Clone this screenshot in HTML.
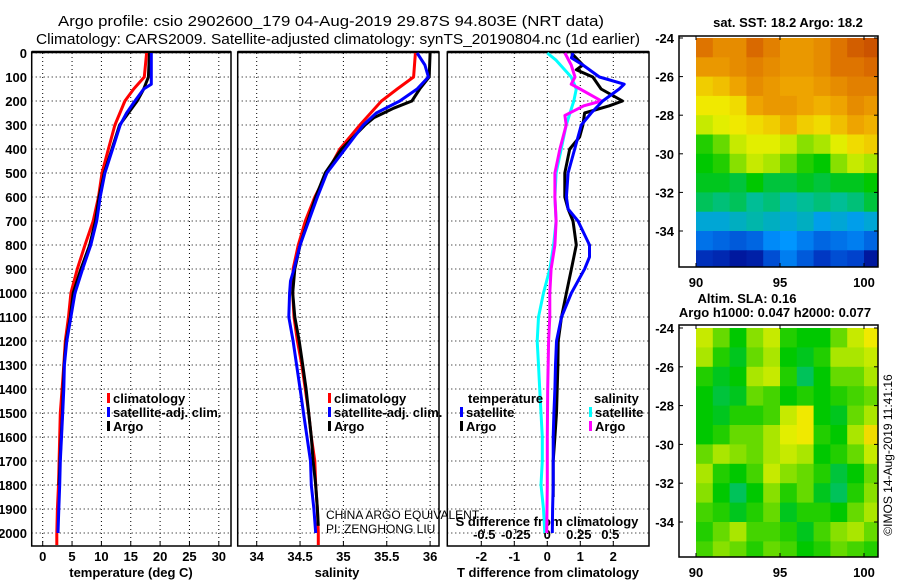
<!DOCTYPE html>
<html><head><meta charset="utf-8">
<style>
html,body{margin:0;padding:0;background:#fff;}
svg{display:block;font-family:"Liberation Sans",sans-serif;}
.tk{font-size:13px;font-weight:bold;fill:#000;}
.grid{stroke:#000;stroke-width:1;stroke-dasharray:1,3;}
</style></head>
<body>
<svg id="fig" width="900" height="580" viewBox="0 0 900 580" xmlns="http://www.w3.org/2000/svg">
<text x="58" y="26" font-size="15" textLength="546" lengthAdjust="spacingAndGlyphs">Argo profile: csio 2902600_179 04-Aug-2019 29.87S 94.803E (NRT data)</text>
<text x="36" y="44" font-size="15" textLength="604" lengthAdjust="spacingAndGlyphs">Climatology: CARS2009. Satellite-adjusted climatology: synTS_20190804.nc (1d earlier)</text>
<g id="layer"></g>
</svg>
<script>
// ---------- data ----------
const depthTicks = [0,100,200,300,400,500,600,700,800,900,1000,1100,1200,1300,1400,1500,1600,1700,1800,1900,2000];
const tempTicks = [0,5,10,15,20,25,30];
const salTicks = [34,34.5,35,35.5,36];
const salTickLabels = ["34","34.5","35","35.5","36"];
const tdiffTicks = [-2,-1,0,1,2];
const sdiffTicks = [-0.5,-0.25,0,0.25,0.5];
const sdiffTickLabels = ["-0.5","-0.25","0","0.25","0.5"];

const tClimDepth = [0,100,150,200,300,400,500,600,700,800,900,1000,1100,1200,1300,1400,1500,1600,1700,1800,1900,2000,2050];
const tClim      = [17.7,17.3,15.5,14.0,12.3,11.2,10.1,9.5,8.6,7.2,5.9,4.8,4.4,3.85,3.6,3.3,3.0,2.9,2.8,2.7,2.5,2.4,2.4];
const tSatDepth  = [0,100,130,150,200,250,300,400,500,600,700,800,900,1000,1100,1200,1300,1400,1500,1600,1700,1800,1900,2000];
const tSat       = [18.5,18.5,18.5,17.2,15.7,14.3,13.2,11.9,10.6,9.8,9.2,8.2,6.8,5.5,4.8,4.1,3.7,3.6,3.4,3.2,3.0,2.9,2.75,2.6];
const tArgoDepth = [0,100,150,200,250,300,400,500,600,700,800,900,1000,1100,1200,1300,1400,1500,1600,1700,1800];
const tArgo      = [18.2,18.0,17.2,16.1,14.6,13.1,11.8,10.5,9.6,9.0,8.0,6.5,5.2,4.7,4.0,3.65,3.5,3.35,3.15,2.95,2.8];

const sClimDepth = [0,100,150,200,300,400,500,600,700,800,900,1000,1100,1200,1300,1400,1500,1600,1700,1800,1900,2000,2050];
const sClim      = [35.83,35.81,35.62,35.44,35.19,34.96,34.81,34.67,34.56,34.48,34.42,34.415,34.43,34.47,34.52,34.56,34.60,34.63,34.67,34.68,34.70,34.71,34.71];
const sSatDepth  = [0,50,100,150,200,250,300,400,500,600,700,800,900,950,1000,1100,1200,1300,1400,1500,1600,1700,1800,1900,2000];
const sSat       = [35.85,35.94,35.98,35.85,35.65,35.38,35.23,35.02,34.81,34.70,34.60,34.50,34.43,34.39,34.38,34.37,34.42,34.46,34.50,34.54,34.58,34.62,34.63,34.66,34.68];
const sArgoDepth = [0,100,150,200,230,270,300,400,500,600,700,800,900,1000,1100,1200,1300,1400,1500,1600,1700,1800,1900,1970];
const sArgo      = [36.0,35.99,35.88,35.79,35.58,35.35,35.25,34.98,34.79,34.68,34.59,34.50,34.44,34.415,34.44,34.49,34.53,34.57,34.60,34.63,34.65,34.68,34.70,34.71];

const dTSatDepth = [0,20,50,100,130,150,200,250,300,400,500,600,650,700,800,850,900,1000,1100,1200,1300,1400,1500,1600,1700,1800,1900,2000];
const dTSat      = [0.78,0.73,1.08,1.58,2.33,2.18,1.68,1.33,1.03,0.83,0.63,0.58,0.63,0.93,1.28,1.28,1.13,0.73,0.43,0.28,0.25,0.23,0.2,0.18,0.18,0.18,0.16,0.15];
const dTArgoDepth= [0,50,70,100,150,200,220,250,300,350,400,500,600,650,700,800,900,1000,1100,1200,1300,1400,1500,1600,1700,1800,1850];
const dTArgo     = [0.73,1.08,0.88,1.38,1.63,2.28,1.88,1.13,1.08,0.98,0.68,0.53,0.53,0.63,0.78,0.88,0.73,0.58,0.43,0.33,0.32,0.3,0.28,0.23,0.18,0.18,0.18];
const dSArgoDepth= [0,50,100,130,150,200,220,260,300,400,500,600,700,800,900,1000,1100,1200,1400,1600,1800,2000];
const dSArgo     = [0.14,0.19,0.22,0.19,0.26,0.43,0.29,0.14,0.15,0.10,0.06,0.06,0.07,0.06,0.03,0.02,0.02,0.01,0.003,0.0,0.0,-0.005];
const dSSatDepth = [0,30,100,150,200,300,400,500,600,700,800,900,1000,1100,1200,1300,1400,1500,1600,1700,1800,1900,2000];
const dSSat      = [0.0,0.07,0.19,0.23,0.21,0.15,0.11,0.07,0.06,0.07,0.05,0.02,-0.03,-0.07,-0.08,-0.07,-0.06,-0.05,-0.04,-0.04,-0.05,-0.03,-0.02];

const mapLons = [90,91,92,93,94,95,96,97,98,99,100];
const mapLats = [-24,-25,-26,-27,-28,-29,-30,-31,-32,-33,-34,-35];
const sstGrid = [
[.84,.80,.80,.86,.82,.78,.78,.80,.84,.88,.90],
[.78,.78,.80,.82,.80,.78,.78,.80,.84,.84,.86],
[.70,.72,.76,.80,.78,.76,.76,.78,.80,.82,.82],
[.66,.66,.68,.76,.78,.78,.76,.74,.76,.80,.78],
[.62,.64,.66,.68,.70,.74,.70,.68,.72,.76,.74],
[.52,.56,.62,.64,.64,.62,.58,.60,.64,.68,.70],
[.50,.52,.58,.62,.60,.56,.52,.50,.58,.62,.60],
[.48,.48,.46,.50,.46,.46,.48,.46,.48,.48,.50],
[.44,.42,.44,.40,.42,.38,.40,.42,.40,.42,.46],
[.34,.34,.36,.38,.36,.34,.36,.32,.34,.32,.34],
[.24,.22,.20,.22,.28,.30,.26,.22,.24,.26,.22],
[.12,.10,.06,.08,.18,.26,.20,.14,.18,.16,.06]];
const slaGrid = [
[.62,.56,.50,.58,.62,.52,.50,.50,.56,.62,.66],
[.60,.52,.48,.56,.60,.50,.48,.52,.60,.60,.62],
[.52,.48,.50,.60,.62,.52,.44,.50,.56,.56,.60],
[.50,.46,.48,.56,.54,.50,.52,.50,.52,.54,.56],
[.50,.48,.52,.52,.54,.62,.66,.50,.48,.56,.60],
[.50,.52,.56,.56,.60,.64,.66,.52,.50,.60,.68],
[.56,.60,.58,.56,.60,.62,.60,.50,.52,.56,.62],
[.60,.52,.50,.54,.62,.58,.56,.52,.46,.50,.56],
[.58,.50,.44,.50,.58,.52,.56,.48,.44,.52,.58],
[.54,.52,.48,.52,.56,.48,.52,.52,.50,.56,.60],
[.52,.56,.60,.54,.54,.52,.48,.54,.58,.60,.56],
[.54,.58,.56,.52,.56,.54,.50,.52,.56,.54,.52]];
const mapXTicks = [90,95,100];
const mapYTicks = [-24,-26,-28,-30,-32,-34];

// ---------- helpers ----------
const NS = "http://www.w3.org/2000/svg";
const layer = document.getElementById('layer');
function mk(tag, attrs, parent){ const e=document.createElementNS(NS,tag); for(const k in attrs) e.setAttribute(k,attrs[k]); (parent||layer).appendChild(e); return e; }
function txt(x,y,s,cls,anchor,parent){ const t=mk('text',{x:x,y:y,'text-anchor':anchor||'middle'},parent); if(cls) t.setAttribute('class',cls); t.textContent=s; return t; }

const Y0 = 53, YB = 546;
const yD = d => Y0 + d*0.24;
const panels = [
  {name:'temperature', x0:31.7, x1:231, f:v=>42.7+v*5.87},
  {name:'salinity', x0:237.7, x1:439, f:v=>256.7+(v-34)*86.7},
  {name:'difference', x0:447.3, x1:649, f:v=>547.3+v*33}
];
const xT = panels[0].f, xS = panels[1].f, xdT = panels[2].f;
const xdS = v => 547.3 + v*126;

panels.forEach((p,i)=>{
  const g = mk('g',{});
  
  
  depthTicks.forEach(d=>{
    const gl = mk('line',{x1:p.x0,x2:p.x1,y1:yD(d),y2:yD(d),class:'grid'},g);
    
    
  });
  const box = mk('rect',{x:p.x0,y:Y0-1,width:p.x1-p.x0,height:YB-Y0+1,fill:'none',stroke:'#000','stroke-width':1.5},g);
  
  
  mk('line',{x1:p.x0,x2:p.x1,y1:Y0-1,y2:Y0-1,stroke:'#000','stroke-width':2.5},g);
});

depthTicks.forEach(d=>{
  const t = txt(27, yD(d)+5, String(d), 'tk', 'end');
  
  
});

function xAxis(ticks, labels, f, p, gname){
  ticks.forEach((v,i)=>{
    const x=f(v);
    const gl = mk('line',{x1:x,x2:x,y1:Y0,y2:YB,class:'grid'});
    
    
    mk('line',{x1:x,x2:x,y1:YB,y2:YB-5,stroke:'#000'});
    const t = txt(x, 561, labels[i], 'tk');
    
    
  });
}
xAxis(tempTicks, tempTicks.map(String), xT, panels[0], 'temperature');
xAxis(salTicks, salTickLabels, xS, panels[1], 'salinity');
xAxis(tdiffTicks, tdiffTicks.map(String), xdT, panels[2], 't-difference');

let t;
t = txt(131, 577, 'temperature (deg C)', 'tk');  
t = txt(337, 577, 'salinity', 'tk');  
t = txt(548, 577, 'T difference from climatology', 'tk');  

sdiffTicks.forEach((v,i)=>{
  const x = xdS(v);
  mk('line',{x1:x,x2:x,y1:yD(2000),y2:yD(2000)-4,stroke:'#000'});
  const tl = txt(x, 539, sdiffTickLabels[i], 'tk');
  
  
});
t = txt(547, 526, 'S difference from climatology', 'tk');  

function series(ds, vs, fx, color, name){
  const pts = ds.map((d,i)=>fx(vs[i]).toFixed(1)+','+yD(d).toFixed(1)).join(' ');
  const pl = mk('polyline',{points:pts,fill:'none',stroke:color,'stroke-width':3,'stroke-linejoin':'round'});
  
  
}
series(tClimDepth,tClim,xT,'#ff0000','temperature-climatology-line');
series(tArgoDepth,tArgo,xT,'#000','temperature-argo-line');
series(tSatDepth,tSat,xT,'#0000ff','temperature-satellite-line');
series(sClimDepth,sClim,xS,'#ff0000','salinity-climatology-line');
series(sArgoDepth,sArgo,xS,'#000','salinity-argo-line');
series(sSatDepth,sSat,xS,'#0000ff','salinity-satellite-line');
series(dSSatDepth,dSSat,xdS,'#00ffff','s-diff-satellite-line');
series(dSArgoDepth,dSArgo,xdS,'#ff00ff','s-diff-argo-line');
series(dTArgoDepth,dTArgo,xdT,'#000','t-diff-argo-line');
series(dTSatDepth,dTSat,xdT,'#0000ff','t-diff-satellite-line');

function legend(x,y,color,label,name){
  const g = mk('g',{});
  
  
  mk('rect',{x:x,y:y-10,width:3,height:10,fill:color},g);
  txt(x+6,y,label,'tk','start',g);
}
legend(107,403,'#ff0000','climatology','legend-climatology');
legend(107,417,'#0000ff','satellite-adj. clim.','legend-satellite-adj');
legend(107,431,'#000','Argo','legend-argo');
legend(328,403,'#ff0000','climatology','legend-climatology-sal');
legend(328,417,'#0000ff','satellite-adj. clim.','legend-satellite-adj-sal');
legend(328,431,'#000','Argo','legend-argo-sal');
t = txt(468,403,'temperature','tk','start');  
legend(460,417,'#0000ff','satellite','legend-t-satellite');
legend(460,431,'#000','Argo','legend-t-argo');
t = txt(594,403,'salinity','tk','start');  
legend(589,417,'#00ffff','satellite','legend-s-satellite');
legend(589,431,'#ff00ff','Argo','legend-s-argo');

t = txt(326,519,'CHINA ARGO EQUIVALENT',null,'start'); t.setAttribute('font-size','12');  
t = txt(326,533,'PI: ZENGHONG LIU',null,'start'); t.setAttribute('font-size','12');  

// ---------- maps ----------
const cmapStops = [0,0.15,0.3,0.4,0.5,0.6,0.65,0.75,0.85,1];
const cmapRGB = [[0,0,130],[0,60,200],[0,150,255],[0,190,150],[0,200,0],[170,230,0],[240,240,0],[240,170,0],[220,110,0],[170,30,0]];
function cmap(v){
  v=Math.max(0,Math.min(1,v));
  let k=0; while(k<cmapStops.length-2 && v>cmapStops[k+1]) k++;
  const f=(v-cmapStops[k])/(cmapStops[k+1]-cmapStops[k]);
  const a=cmapRGB[k], b=cmapRGB[k+1];
  return 'rgb('+a.map((c,i)=>Math.round(c+(b[i]-c)*f)).join(',')+')';
}
function drawMap(grid, top, bottom, lat24y, lat34y, name){
  const bx0=679, bx1=878;
  const lonX = lon => 696 + (lon-90)*16.8;
  const latY = lat => lat24y + (-24-lat)*(lat34y-lat24y)/10;
  const g = mk('g',{});
  
  
  mapLats.forEach((lat,i)=>{
    mapLons.forEach((lon,j)=>{
      const x0=lonX(lon), y0=Math.max(top,latY(lat));
      const x1=Math.min(bx1,lonX(lon+1)), y1=Math.min(bottom,latY(lat-1));
      if(y1<=y0) return;
      const r = mk('rect',{x:x0,y:y0,width:x1-x0+0.5,height:y1-y0+0.5,fill:cmap(grid[i][j])},g);
      
      
    });
  });
  const fr = mk('rect',{x:bx0,y:top,width:bx1-bx0,height:bottom-top,fill:'none',stroke:'#000','stroke-width':1.5},g);
  
  
  mapYTicks.forEach(lat=>{
    const y=latY(lat);
    mk('line',{x1:bx0,x2:bx0+4,y1:y,y2:y,stroke:'#000'},g);
    mk('line',{x1:bx1,x2:bx1-4,y1:y,y2:y,stroke:'#000'},g);
    const tl = txt(674,y+5,String(lat),'tk','end',g);
    
    
  });
  mapXTicks.forEach(lon=>{
    const x=lonX(lon);
    mk('line',{x1:x,x2:x,y1:bottom,y2:bottom-4,stroke:'#000'},g);
    mk('line',{x1:x,x2:x,y1:top,y2:top+4,stroke:'#000'},g);
    const tl = txt(x,bottom+20,String(lon),'tk','middle',g);
    
    
  });
}
drawMap(sstGrid, 36, 267, 38, 231, 'sst-map');
drawMap(slaGrid, 325, 557, 328, 522, 'sla-map');
t = txt(788,27,'sat. SST: 18.2 Argo: 18.2','tk');  
t = txt(747,303,'Altim. SLA: 0.16','tk');  
t = txt(775,317,'Argo h1000: 0.047 h2000: 0.077','tk');  
t = txt(0,0,'©IMOS 14-Aug-2019 11:41:16',null,'middle');
t.setAttribute('transform','translate(892,455) rotate(-90)');
t.setAttribute('font-size','12');


</script>
</body></html>
